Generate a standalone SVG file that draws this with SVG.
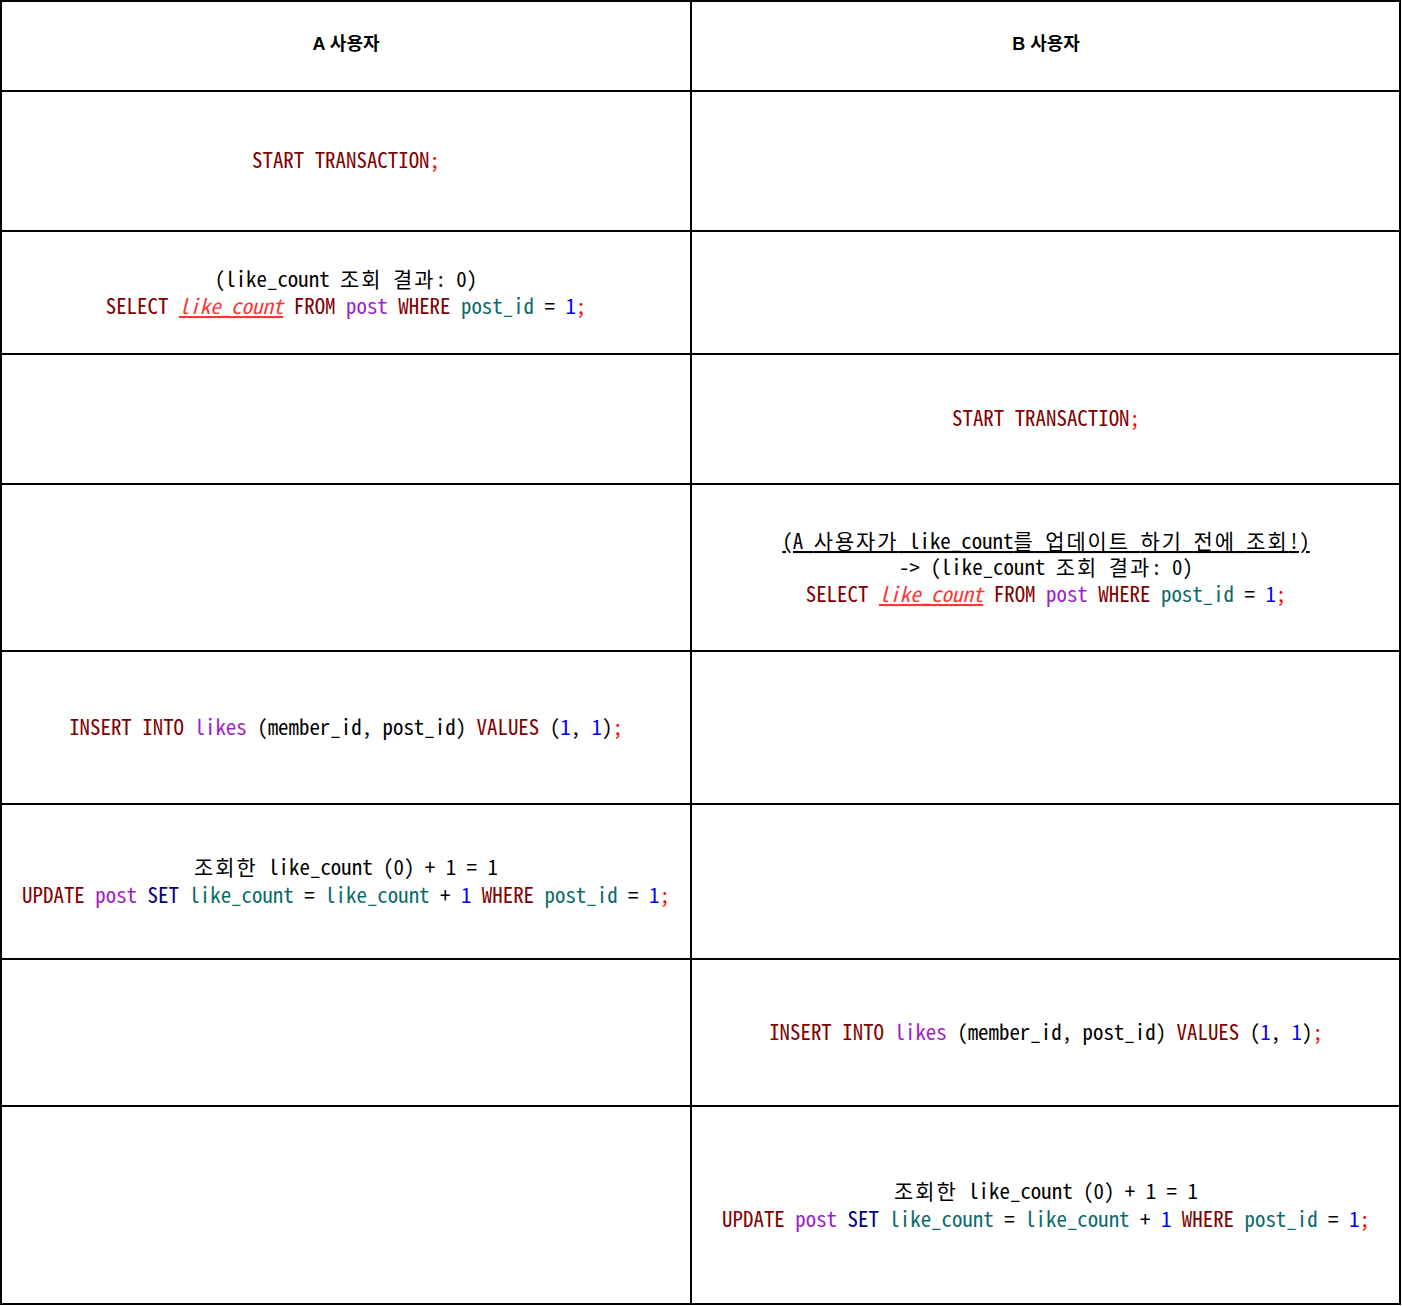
<svg xmlns="http://www.w3.org/2000/svg" width="1402" height="1306" viewBox="0 0 1402 1306">
<style>
.bg{fill:#ffffff}
.ln{stroke:#000;stroke-width:2;fill:none}
.c{font-family:"Noto Sans Mono CJK KR","D2Coding","Noto Sans CJK KR",monospace;font-size:20.9px;text-anchor:middle;fill:#000}
.h{font-family:"Liberation Sans","Noto Sans CJK KR",sans-serif;font-weight:bold;font-size:18px;text-anchor:middle;fill:#000}
.ko{letter-spacing:2px}
.k{fill:#800000}
.s{fill:#ff0000}
.t{fill:#9b1fc9}
.col{fill:#0b6b6b}
.n{fill:#0000ff}
.set{fill:#000080}
.hl{fill:#ff3333;font-style:italic;text-decoration:underline}
.u{text-decoration:underline}
</style>
<rect class="bg" x="0" y="0" width="1402" height="1306"/>
<g id="grid">
<rect class="ln" x="1" y="1" width="1399" height="1303"/>
<line class="ln" x1="691" y1="1" x2="691" y2="1304"/>
<line class="ln" x1="1" y1="91" x2="1400" y2="91"/>
<line class="ln" x1="1" y1="231" x2="1400" y2="231"/>
<line class="ln" x1="1" y1="354" x2="1400" y2="354"/>
<line class="ln" x1="1" y1="484" x2="1400" y2="484"/>
<line class="ln" x1="1" y1="651" x2="1400" y2="651"/>
<line class="ln" x1="1" y1="804" x2="1400" y2="804"/>
<line class="ln" x1="1" y1="959" x2="1400" y2="959"/>
<line class="ln" x1="1" y1="1106" x2="1400" y2="1106"/>
</g>
<g id="connectors"></g>
<g id="header-a"><text class="h" x="346" y="50">A 사용자</text></g>
<g id="header-b"><text class="h" x="1046" y="50">B 사용자</text></g>
<g id="a-start"><text class="c" x="346" y="168"><tspan class="k">START TRANSACTION</tspan><tspan class="s">;</tspan></text></g>
<g id="a-select">
<text class="c" x="346" y="287">(like_count <tspan class="ko">조회</tspan> <tspan class="ko">결과</tspan>: 0)</text>
<text class="c" x="346" y="314"><tspan class="k">SELECT</tspan> <tspan class="hl">like_count</tspan> <tspan class="k">FROM</tspan> <tspan class="t">post</tspan> <tspan class="k">WHERE</tspan> <tspan class="col">post_id</tspan> = <tspan class="n">1</tspan><tspan class="s">;</tspan></text>
</g>
<g id="b-start"><text class="c" x="1046" y="426"><tspan class="k">START TRANSACTION</tspan><tspan class="s">;</tspan></text></g>
<g id="b-select">
<text class="c u" x="1046" y="549">(A <tspan class="ko">사용자가</tspan> like_count<tspan class="ko">를</tspan> <tspan class="ko">업데이트</tspan> <tspan class="ko">하기</tspan> <tspan class="ko">전에</tspan> <tspan class="ko">조회</tspan>!)</text>
<text class="c" x="1046" y="575">-&gt; (like_count <tspan class="ko">조회</tspan> <tspan class="ko">결과</tspan>: 0)</text>
<text class="c" x="1046" y="602"><tspan class="k">SELECT</tspan> <tspan class="hl">like_count</tspan> <tspan class="k">FROM</tspan> <tspan class="t">post</tspan> <tspan class="k">WHERE</tspan> <tspan class="col">post_id</tspan> = <tspan class="n">1</tspan><tspan class="s">;</tspan></text>
</g>
<g id="a-insert"><text class="c" x="346" y="735"><tspan class="k">INSERT INTO</tspan> <tspan class="t">likes</tspan> (member_id, post_id) <tspan class="k">VALUES</tspan> (<tspan class="n">1</tspan>, <tspan class="n">1</tspan>)<tspan class="s">;</tspan></text></g>
<g id="a-update">
<text class="c" x="346" y="875"><tspan class="ko">조회한</tspan> like_count (0) + 1 = 1</text>
<text class="c" x="346" y="903"><tspan class="k">UPDATE</tspan> <tspan class="t">post</tspan> <tspan class="set">SET</tspan> <tspan class="col">like_count</tspan> = <tspan class="col">like_count</tspan> + <tspan class="n">1</tspan> <tspan class="k">WHERE</tspan> <tspan class="col">post_id</tspan> = <tspan class="n">1</tspan><tspan class="s">;</tspan></text>
</g>
<g id="b-insert"><text class="c" x="1046" y="1040"><tspan class="k">INSERT INTO</tspan> <tspan class="t">likes</tspan> (member_id, post_id) <tspan class="k">VALUES</tspan> (<tspan class="n">1</tspan>, <tspan class="n">1</tspan>)<tspan class="s">;</tspan></text></g>
<g id="b-update">
<text class="c" x="1046" y="1199"><tspan class="ko">조회한</tspan> like_count (0) + 1 = 1</text>
<text class="c" x="1046" y="1227"><tspan class="k">UPDATE</tspan> <tspan class="t">post</tspan> <tspan class="set">SET</tspan> <tspan class="col">like_count</tspan> = <tspan class="col">like_count</tspan> + <tspan class="n">1</tspan> <tspan class="k">WHERE</tspan> <tspan class="col">post_id</tspan> = <tspan class="n">1</tspan><tspan class="s">;</tspan></text>
</g>
</svg>
